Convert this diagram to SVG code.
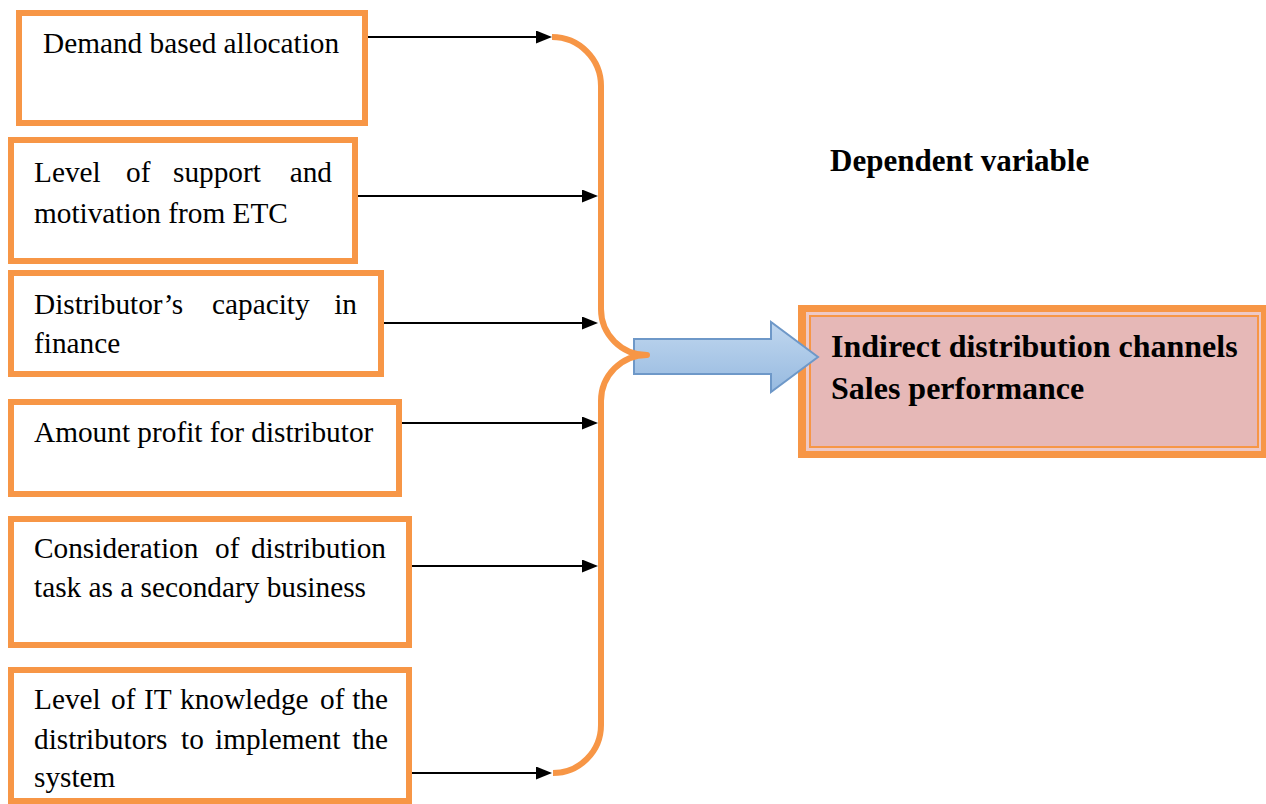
<svg xmlns="http://www.w3.org/2000/svg" width="1266" height="804" viewBox="0 0 1266 804">
  <defs>
    <marker id="arrowhead" markerUnits="userSpaceOnUse" markerWidth="16" markerHeight="14" refX="10" refY="6.5" orient="auto">
      <path d="M0,0 L16,6.5 L0,13 z" fill="#000"/>
    </marker>
    <linearGradient id="blueFill" x1="0" y1="0" x2="0" y2="1">
      <stop offset="0" stop-color="#C0D7EF"/>
      <stop offset="1" stop-color="#97BAE0"/>
    </linearGradient>
  </defs>
  <style>
    .box { fill: #fff; stroke: #F79646; stroke-width: 6; }
    .txt { font-family: "Liberation Serif", "Times New Roman", serif; font-size: 29.3px; fill: #000; }
    .bold { font-family: "Liberation Serif", "Times New Roman", serif; font-weight: bold; fill: #000; }
    .end { text-anchor: end; }
    .conn { stroke: #000; stroke-width: 2; fill: none; marker-end: url(#arrowhead); }
    .brace { stroke: #F79646; stroke-width: 6; fill: none; stroke-linejoin: round; }
  </style>

  <rect width="1266" height="804" fill="#fff"/>

  <!-- Independent factors -->
  <g id="demand-allocation">
    <rect class="box" x="19" y="13" width="346" height="110"/>
    <text class="txt" x="43" y="53">Demand based allocation</text>
  </g>

  <g id="support-motivation">
    <rect class="box" x="11" y="140" width="344" height="121"/>
    <text class="txt" y="182"><tspan x="34">Level</tspan><tspan x="126">of</tspan><tspan x="173">support</tspan></text>
    <text class="txt end" x="332" y="182">and</text>
    <text class="txt" x="34" y="223">motivation from ETC</text>
  </g>

  <g id="finance-capacity">
    <rect class="box" x="11" y="273" width="370" height="101"/>
    <text class="txt" y="314"><tspan x="34">Distributor’s</tspan><tspan x="212">capacity</tspan></text>
    <text class="txt end" x="357" y="314">in</text>
    <text class="txt" x="34" y="353">finance</text>
  </g>

  <g id="distributor-profit">
    <rect class="box" x="11" y="402" width="388" height="92"/>
    <text class="txt" x="34" y="442">Amount profit for distributor</text>
  </g>

  <g id="secondary-business">
    <rect class="box" x="11" y="519" width="398" height="126"/>
    <text class="txt" y="558"><tspan x="34">Consideration</tspan><tspan x="215">of</tspan></text>
    <text class="txt end" x="386" y="558">distribution</text>
    <text class="txt" x="34" y="597">task as a secondary business</text>
  </g>

  <g id="it-knowledge">
    <rect class="box" x="11" y="670" width="398" height="131"/>
    <text class="txt" y="709"><tspan x="34">Level</tspan><tspan x="111">of</tspan><tspan x="144">IT</tspan><tspan x="180">knowledge</tspan><tspan x="320">of</tspan></text>
    <text class="txt end" x="388" y="709">the</text>
    <text class="txt" y="749"><tspan x="34">distributors</tspan><tspan x="181">to</tspan><tspan x="215">implement</tspan></text>
    <text class="txt end" x="388" y="749">the</text>
    <text class="txt" x="34" y="787">system</text>
  </g>

  <!-- Dependent variable -->
  <g id="dependent-label">
    <text class="bold" x="830" y="171" font-size="31">Dependent variable</text>
  </g>

  <g id="sales-performance">
    <rect x="798" y="305" width="470" height="153" fill="#F79646"/>
    <rect x="806" y="312" width="455" height="139" fill="#EEC9C6"/>
    <rect x="810" y="316" width="448" height="131" fill="#E6B8B7" stroke="#F79646" stroke-width="2"/>
    <text class="bold" x="831" y="357" font-size="32">Indirect distribution channels</text>
    <text class="bold" x="831" y="399" font-size="32">Sales performance</text>
  </g>

  <!-- Connectors -->
  <g id="connectors">
    <line class="conn" x1="368" y1="37" x2="546" y2="37"/>
    <line class="conn" x1="358" y1="196" x2="592" y2="196"/>
    <line class="conn" x1="384" y1="323" x2="592" y2="323"/>
    <line class="conn" x1="402" y1="423" x2="592" y2="423"/>
    <line class="conn" x1="412" y1="566" x2="592" y2="566"/>
    <line class="conn" x1="412" y1="773" x2="546" y2="773"/>

    <path id="result-arrow" d="M634,339 L771,339 L771,322 L818,357 L771,392 L771,374 L634,374 z" fill="url(#blueFill)" stroke="#6E98C8" stroke-width="2"/>

    <path id="brace" class="brace" d="M552,37 A49,49 0 0 1 601,86 L601,309 A46,46 0 0 0 647,355 A46,46 0 0 0 601,401 L601,725 A48,48 0 0 1 553,773"/>
  </g>
</svg>
